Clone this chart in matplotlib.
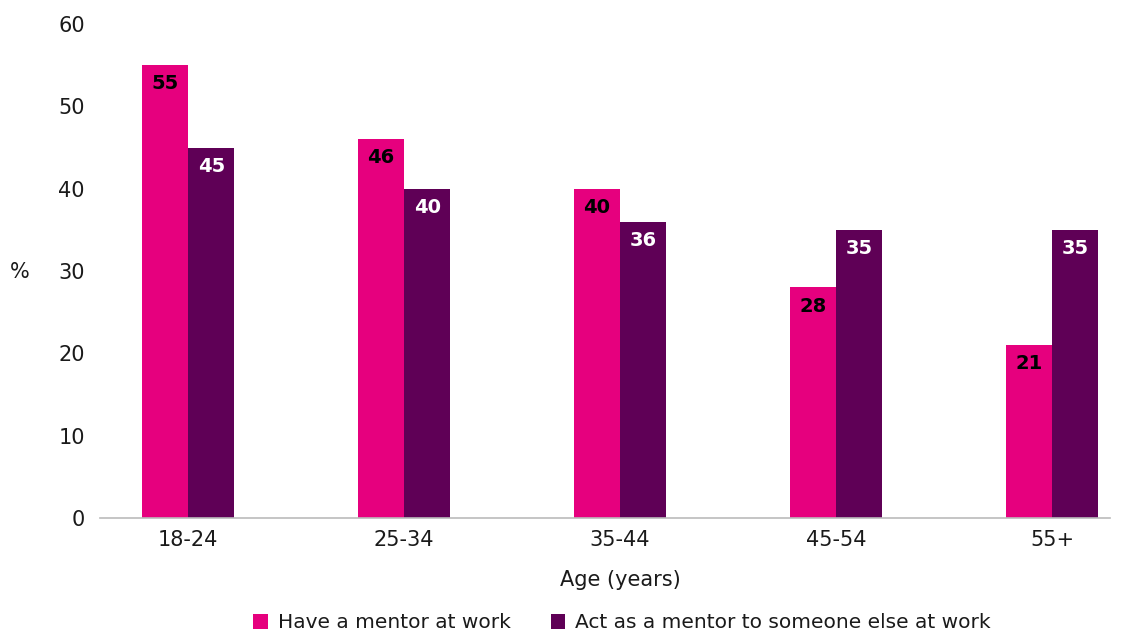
import matplotlib
matplotlib.use("Agg")
import matplotlib.pyplot as plt
import numpy as np

plt.rcParams['font.family'] = ['DejaVu Sans']

categories = ["18-24", "25-34", "35-44", "45-54", "55+"]
have_mentor = [55, 46, 40, 28, 21]
act_as_mentor = [45, 40, 36, 35, 35]
series_names = ["Have a mentor at work", "Act as a mentor to someone else at work"]

pink = "#E6007E"
purple = "#5F0056"
text_col = "#1A1A1A"

fig = plt.figure(figsize=(11.28, 6.34), dpi=100)
ax = fig.add_axes([100 / 1128, 1 - 518 / 634, 1010 / 1128, 494 / 634])

x = np.arange(len(categories))
w = 0.215
b1 = ax.bar(x - w / 2, have_mentor, width=w, color=pink, label=series_names[0])
b2 = ax.bar(x + w / 2, act_as_mentor, width=w, color=purple, label=series_names[1])

for bars, vals, tc in ((b1, have_mentor, "black"), (b2, act_as_mentor, "white")):
    for rect, v in zip(bars, vals):
        ax.text(rect.get_x() + rect.get_width() / 2, v - 1.1, str(v),
                ha="center", va="top", fontsize=14, fontweight="bold", color=tc)

ax.set_xlim((100 - 188) / 216, (1110 - 188) / 216)
ax.set_ylim(0, 60)
ax.set_yticks(np.arange(0, 61, 10))
ax.set_xticks(x)
ax.set_xticklabels(categories)
ax.tick_params(axis="both", length=0, labelsize=15, colors=text_col)
ax.tick_params(axis="y", pad=11)
ax.tick_params(axis="x", pad=9)
for s in ("top", "right", "left"):
    ax.spines[s].set_visible(False)
ax.spines["bottom"].set_color("#BBBBBB")
ax.spines["bottom"].set_linewidth(1.2)

ax.set_xlabel("Age (years)", fontsize=15, color=text_col)
ax.xaxis.set_label_coords((620 - 100) / 1010, -(570 - 518) / 494, transform=ax.transAxes)
fig.text(20 / 1128, 1 - 272 / 634, "%", fontsize=15, color=text_col, ha="center", va="center")

leg = fig.legend(loc="center", bbox_to_anchor=(622 / 1128, 1 - 623 / 634), ncol=2,
                 frameon=False, fontsize=14.5, handlelength=0.7, handleheight=0.7,
                 handletextpad=0.5, columnspacing=2.0, labelcolor=text_col)

fig.savefig("out.png", dpi=100, facecolor="white")
